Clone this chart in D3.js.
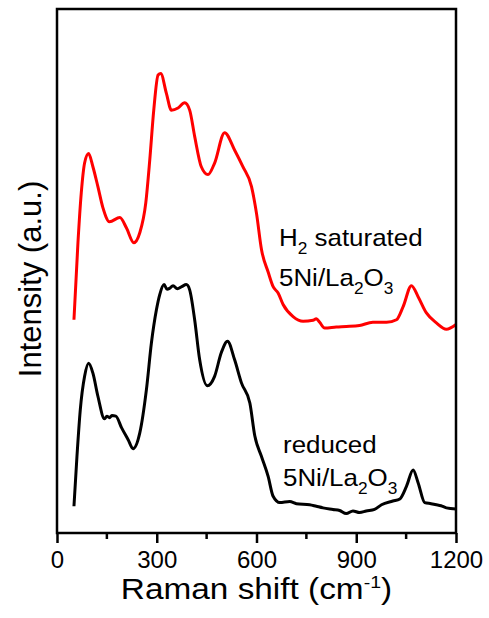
<!DOCTYPE html>
<html>
<head>
<meta charset="utf-8">
<script src="https://cdn.jsdelivr.net/npm/d3@7"></script>
<style>
  body { margin: 0; background: #fff; }
  text { font-family: Arial, "Liberation Sans", sans-serif; fill: #000; }
</style>
</head>
<body>
<svg id="raman"></svg>
<script>
// H2 saturated 5Ni/La2O3 (red)
const h2Shift = [51, 63, 73, 83, 95, 108, 123, 138, 158, 189, 209, 231, 249, 267, 279, 291, 304, 312,
  329, 344, 364, 384, 399, 414, 434, 454, 474, 504, 534, 559, 585, 600, 615, 635, 650, 665, 680, 710,
  740, 770, 780, 790, 805, 840, 870, 910, 950, 991, 1021, 1041, 1066, 1086, 1111, 1141, 1171, 1200]
const h2Intensity = [40.7, 55.4, 64.9, 70.6, 72.4, 69.9, 66.1, 62.1, 59.4, 60.2, 58.2, 55.4, 57.3, 63.0,
  71.2, 80.7, 87.4, 87.7, 83.9, 80.7, 81.1, 82.1, 80.7, 75.7, 69.9, 68.4, 70.6, 76.4, 73.1, 69.9, 66.1,
  61.0, 54.1, 49.8, 47.0, 45.8, 43.6, 41.3, 40.4, 40.6, 40.9, 40.2, 39.1, 39.3, 39.4, 39.6, 40.2, 40.2,
  40.7, 43.2, 47.2, 45.1, 42.0, 40.1, 38.9, 39.8]

// reduced 5Ni/La2O3 (black)
const reducedShift = [51, 60, 70, 83, 95, 108, 123, 143, 150, 158, 165, 177, 194, 214, 229, 249, 269,
  284, 299, 309, 322, 331, 339, 349, 362, 375, 389, 399, 414, 429, 452, 474, 494, 513, 534, 555, 580,
  595, 615, 635, 650, 670, 700, 720, 760, 780, 800, 830, 850, 870, 890, 910, 930, 955, 976, 1010, 1031,
  1051, 1071, 1086, 1106, 1125, 1141, 1155, 1171, 1200]
const reducedIntensity = [5.1, 14.6, 23.5, 29.9, 32.4, 30.5, 26.1, 21.8, 22.3, 22.0, 22.4, 22.3, 20.1,
  17.8, 16.1, 19.1, 27.4, 36.3, 42.6, 45.5, 47.4, 46.5, 46.7, 47.2, 46.6, 47.0, 47.4, 46.4, 40.7, 33.1,
  28.1, 29.9, 34.4, 36.6, 33.1, 28.6, 24.8, 18.5, 14.6, 10.8, 7.0, 5.8, 6.0, 5.6, 5.4, 5.1, 4.8, 4.5,
  4.3, 3.7, 4.2, 3.9, 4.2, 4.5, 5.4, 6.1, 6.5, 8.9, 12.0, 9.6, 5.8, 5.6, 5.4, 5.2, 4.8, 4.6]

const xTicks = [0, 300, 600, 900, 1200]
const xMinorTicks = [150, 450, 750, 1050]

const width = 489
const height = 618
const margin = { top: 9, right: 33, bottom: 85, left: 57 }

const x = d3.scaleLinear().domain([0, 1200]).range([margin.left, width - margin.right])
const y = d3.scaleLinear().domain([0, 100]).range([height - margin.bottom, margin.top])

const svg = d3.select("#raman").attr("width", width).attr("height", height)

/*
  Spectra
*/
const line = (xs) => d3.line()
  .x((d, i) => x(xs[i]))
  .y((d) => y(d))

svg.append("path")
  .datum(h2Intensity)
  .attr("fill", "none")
  .attr("stroke", "#ff0000")
  .attr("stroke-width", 3)
  .attr("stroke-linejoin", "round")
  .attr("d", line(h2Shift).curve(d3.curveMonotoneX))

svg.append("path")
  .datum(reducedIntensity)
  .attr("fill", "none")
  .attr("stroke", "#000")
  .attr("stroke-width", 3)
  .attr("stroke-linejoin", "round")
  .attr("d", line(reducedShift).curve(d3.curveMonotoneX))

/*
  Frame + x axis
*/
svg.append("rect")
  .attr("x", x(0))
  .attr("y", y(100))
  .attr("width", x(1200) - x(0))
  .attr("height", y(0) - y(100))
  .attr("fill", "none")
  .attr("stroke", "#000")
  .attr("stroke-width", 2.5)

const xAxis = svg.append("g")
  .attr("transform", "translate(0," + y(0) + ")")
  .call(d3.axisBottom(x).tickValues(xTicks).tickSize(10).tickPadding(8).tickFormat(d3.format("d")))
xAxis.select(".domain").remove()
xAxis.selectAll("line").attr("stroke-width", 2.5)
xAxis.selectAll("text").attr("font-size", 24).attr("font-family", "Arial, 'Liberation Sans', sans-serif")

svg.append("g")
  .attr("transform", "translate(0," + y(0) + ")")
  .selectAll("line")
  .data(xMinorTicks)
  .enter()
  .append("line")
  .attr("x1", (d) => x(d))
  .attr("x2", (d) => x(d))
  .attr("y1", 0)
  .attr("y2", 6)
  .attr("stroke", "#000")
  .attr("stroke-width", 2.5)

/*
  Axis titles (the original text is a bit stretched sideways)
*/
const title = svg.append("text")
  .attr("transform", "translate(" + (x(0) + x(1200)) / 2 + ",599) scale(1.15,1)")
  .attr("text-anchor", "middle")
  .attr("font-size", 29)
title.append("tspan").text("Raman shift (cm")
title.append("tspan").attr("font-size", 17).attr("dy", -11).text("-1")
title.append("tspan").attr("dy", 11).text(")")

svg.append("text")
  .attr("transform", "translate(30,279) rotate(-90)")
  .attr("text-anchor", "middle")
  .attr("dy", "0.35em")
  .attr("font-size", 31)
  .text("Intensity (a.u.)")

/*
  Sample labels
*/
const label = (lx, ly) => svg.append("text")
  .attr("transform", "translate(" + lx + "," + ly + ") scale(1.08,1)")
  .attr("font-size", 24)

const chem = (lx, ly) => {
  const t = label(lx, ly)
  t.append("tspan").text("5Ni/La")
  t.append("tspan").attr("font-size", 16).attr("dy", 8).text("2")
  t.append("tspan").attr("dy", -8).text("O")
  t.append("tspan").attr("font-size", 16).attr("dy", 8).text("3")
}

const h2 = label(279, 246)
h2.append("tspan").text("H")
h2.append("tspan").attr("font-size", 16).attr("dy", 8).text("2")
h2.append("tspan").attr("dy", -8).text(" saturated")
chem(279, 286)

label(283, 453).text("reduced")
chem(283, 486)
</script>
</body>
</html>
